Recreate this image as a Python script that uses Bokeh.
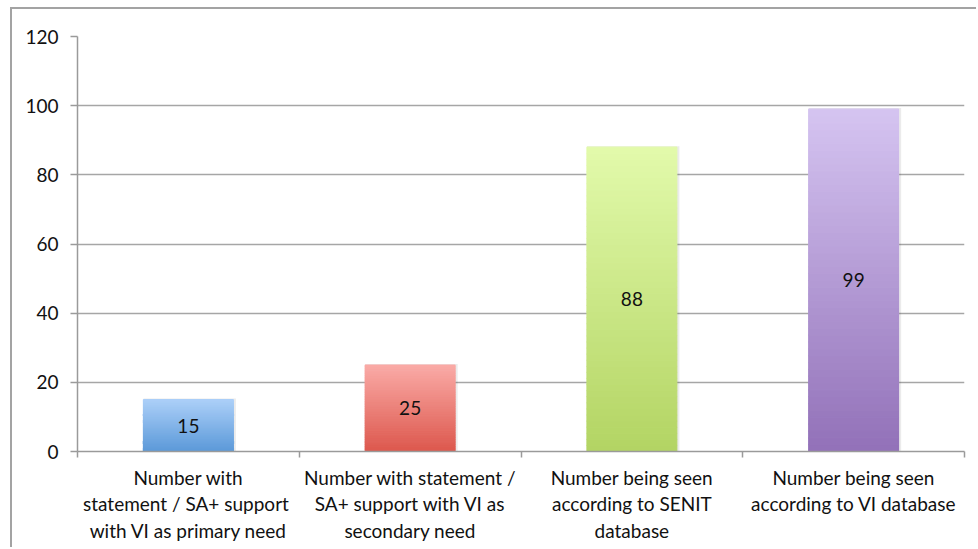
from bokeh.plotting import figure
from bokeh.models import FixedTicker, LinearAxis, Range1d, ColumnDataSource
from bokeh.core.properties import value
from bokeh.embed import file_html
from bokeh.resources import INLINE

# ---- data ----
categories = [
    "Number with\nstatement  / SA+ support\nwith VI as primary need",
    "Number with statement /\nSA+ support with VI as\nsecondary need",
    "Number being seen\naccording to SENIT\ndatabase",
    "Number being seen\naccording to VI database",
]
counts = [15, 25, 88, 99]
y_ticks = [0, 20, 40, 60, 80, 100, 120]

# gradient colours for each bar (bottom, top)
bottom_colors = ["#5a98d8", "#dc574c", "#b3d463", "#9271b8"]
top_colors = ["#abcff8", "#faaaa6", "#e2faab", "#d5c4f1"]

FONT = "Lato"
FS = "19px"


def hex_to_rgb(h):
    h = h.lstrip("#")
    return tuple(int(h[i:i + 2], 16) for i in (0, 2, 4))


def mix(c0, c1, t):
    a, b = hex_to_rgb(c0), hex_to_rgb(c1)
    return "#%02x%02x%02x" % tuple(round(a[k] + (b[k] - a[k]) * t) for k in range(3))


p = figure(
    width=966, height=540,
    x_range=Range1d(0, len(categories)), y_range=Range1d(0, 120),
    output_backend="svg", toolbar_location=None,
    min_border_left=65, min_border_right=14, min_border_top=27, min_border_bottom=98,
    margin=(7, 0, 0, 10),
    styles={"border-top": "2px solid #a3a3a3", "border-left": "2px solid #a3a3a3"},
    outline_line_color=None,
    background_fill_color="white", border_fill_color="white",
)
p.xaxis.visible = False
p.xgrid.visible = False

# y axis
p.yaxis.ticker = FixedTicker(ticks=y_ticks)
p.yaxis.axis_line_color = "#9a9a9a"
p.yaxis.axis_line_width = 1.5
p.yaxis.major_tick_line_color = "#9a9a9a"
p.yaxis.major_tick_line_width = 1.5
p.yaxis.major_tick_out = 7
p.yaxis.major_tick_in = 0
p.yaxis.minor_tick_line_color = None
p.yaxis.major_label_standoff = 12
p.yaxis.major_label_text_font = FONT
p.yaxis.major_label_text_font_size = FS
p.yaxis.major_label_text_color = "#111111"
p.ygrid.ticker = FixedTicker(ticks=y_ticks)
p.ygrid.grid_line_color = "#a6a6a6"
p.ygrid.grid_line_width = 1.5

# category axis: labels at bar centres, tick marks at category boundaries
centers = [i + 0.5 for i in range(len(categories))]
bounds = list(range(len(categories) + 1))
xa = LinearAxis(ticker=FixedTicker(ticks=centers, minor_ticks=bounds))
xa.major_label_overrides = {c: lab for c, lab in zip(centers, categories)}
xa.axis_line_color = "#9a9a9a"
xa.axis_line_width = 1.5
xa.major_tick_line_color = None
xa.major_tick_out = 0
xa.major_tick_in = 0
xa.minor_tick_line_color = "#9a9a9a"
xa.minor_tick_line_width = 1.5
xa.minor_tick_out = 6
xa.minor_tick_in = 0
xa.major_label_standoff = 8
xa.major_label_text_font = FONT
xa.major_label_text_font_size = FS
xa.major_label_text_color = "#111111"
xa.major_label_text_line_height = 1.17
p.add_layout(xa, "below")

# bars, drawn as stacked slices to give a vertical gradient
half = 0.2025
steps = 50
xs0, xs1, ys0, ys1, cols = [], [], [], [], []
for i, v in enumerate(counts):
    for s in range(steps):
        xs0.append(centers[i] - half)
        xs1.append(centers[i] + half)
        ys0.append(v * s / steps)
        ys1.append(v * (s + 1) / steps)
        cols.append(mix(bottom_colors[i], top_colors[i], (s + 0.5) / steps))

# soft shadow behind each bar
p.quad(left=[c - half for c in centers], right=[c + half + 0.012 for c in centers],
       bottom=[0] * len(counts), top=[v + 0.3 for v in counts],
       fill_color="#000000", fill_alpha=0.08, line_color=None)
p.quad(left=xs0, right=xs1, bottom=ys0, top=ys1,
       fill_color=cols, line_color=cols, line_width=1.2)

# value labels, centred in each bar
src = ColumnDataSource(dict(x=centers, y=[v / 2 for v in counts], t=[str(v) for v in counts]))
p.text(x="x", y="y", text="t", source=src, text_align="center", text_baseline="middle",
       text_font=value(FONT), text_font_size=FS, text_color="#111111")

open("out.html", "w").write(file_html(p, INLINE))
